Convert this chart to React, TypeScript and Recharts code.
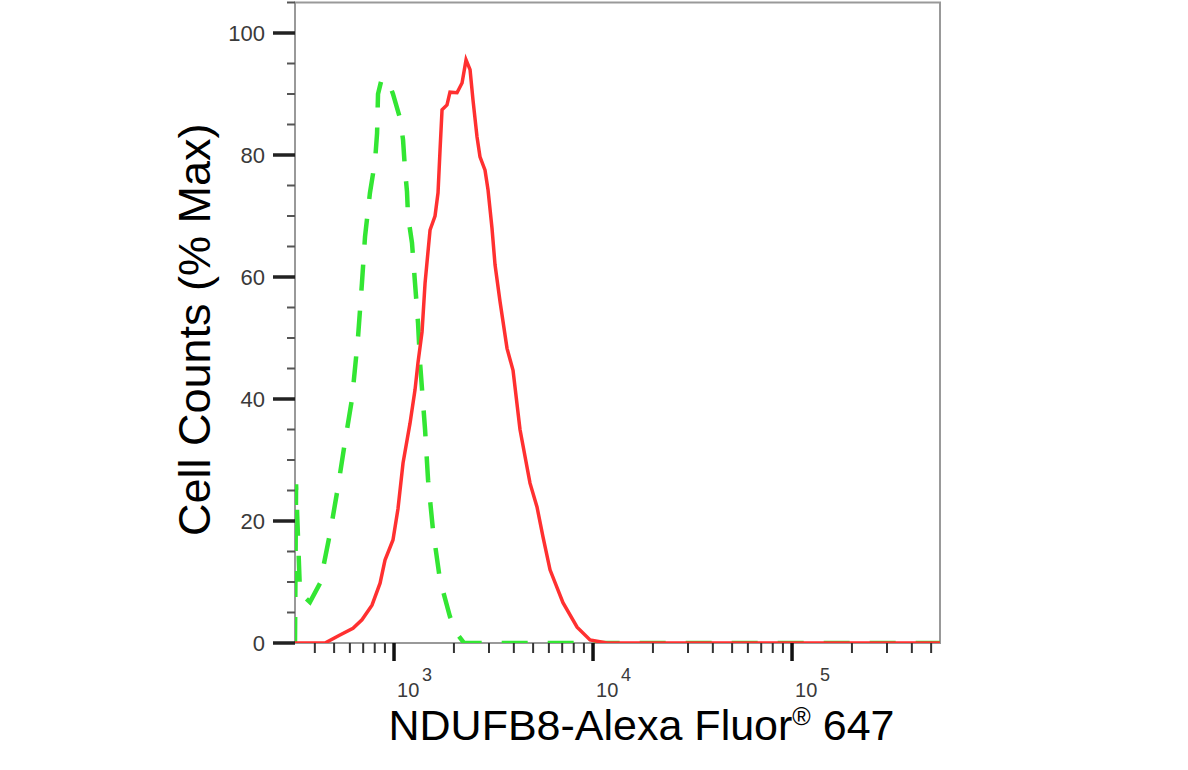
import { LineChart, Line, XAxis, YAxis, ReferenceArea } from "recharts";

// isotype control (green dashed)
const isotypeIntensity = [318, 322, 337, 378, 425, 477, 523, 567, 615, 659, 690, 715, 757, 803, 822, 831, 860, 901, 950, 988, 1072, 1110, 1136, 1162, 1176, 1231, 1275, 1320, 1351, 1432, 1483, 1570, 1703, 1911, 2097, 2250, 554000];
const isotypePct = [0, 26, 8.2, 6.7, 9.8, 18, 25.6, 33, 40, 50, 59, 66.6, 73.8, 79, 83.6, 90, 92, 92.6, 91.5, 90, 86, 82.5, 77.5, 74, 70, 65.6, 59, 52.5, 46, 35, 26.7, 18.5, 10.3, 4.3, 1.3, 0, 0];

// NDUFB8 stained (red)
const stainedIntensity = [318, 450, 535, 622, 690, 775, 851, 901, 988, 1047, 1110, 1203, 1275, 1320, 1383, 1432, 1517, 1607, 1664, 1703, 1743, 1846, 1911, 2073, 2197, 2301, 2410, 2494, 2612, 2704, 2866, 2967, 3107, 3218, 3409, 3697, 3963, 4296, 4823, 5230, 5605, 6081, 7063, 8317, 9660, 11750, 554000];
const stainedPct = [0, 0, 1.3, 2.4, 3.8, 6.2, 9.8, 13.6, 16.9, 22, 29.5, 36, 41.5, 46, 51, 59, 67.7, 70, 73.8, 80.8, 87.4, 88.2, 90.3, 90.2, 91.8, 95.6, 94, 89, 83, 79.7, 77.5, 74.3, 68, 62, 56, 48.3, 44.7, 35, 26.2, 22.3, 17.4, 12, 6.6, 2.6, 0.5, 0, 0];

const xTicks = [400, 500, 600, 700, 800, 900, 1000, 2000, 3000, 4000, 5000, 6000, 7000, 8000, 9000, 10000, 20000, 30000, 40000, 50000, 60000, 70000, 80000, 90000, 100000, 200000, 300000, 400000, 500000];
const xMajor = [1000, 10000, 100000];
const xMajorExp = ["3", "4", "5"];

const yTicks = [0, 5, 10, 15, 20, 25, 30, 35, 40, 45, 50, 55, 60, 65, 70, 75, 80, 85, 90, 95, 100, 105];
const yMajor = [0, 20, 40, 60, 80, 100];

const X_DOMAIN = [318, 554000];
const Y_DOMAIN = [0, 105];

const isotypeData = isotypeIntensity.map((x, i) => ({ x, y: isotypePct[i] }));
const stainedData = stainedIntensity.map((x, i) => ({ x, y: stainedPct[i] }));

const FONT = '"Liberation Sans", Arial, Helvetica, sans-serif';

function XTick(props: any) {
  const { x, y, payload } = props;
  const idx = xMajor.indexOf(payload.value);
  const major = idx >= 0;
  return (
    <g>
      <line x1={x} x2={x} y1={y} y2={y + (major ? 18 : 10)} stroke={major ? "#111" : "#333"} strokeWidth={major ? 3.5 : 2} />
      {major && (
        <>
          <text x={x + 3} y={y + 54} fontSize={20} fill="#3a3a3a" fontFamily={FONT}>
            10
          </text>
          <text x={x + 28} y={y + 38} fontSize={18} fill="#3a3a3a" fontFamily={FONT}>
            {xMajorExp[idx]}
          </text>
        </>
      )}
    </g>
  );
}

function YTick(props: any) {
  const { x, y, payload } = props;
  const major = yMajor.includes(payload.value);
  return (
    <g>
      <line x1={x - (major ? 22 : 8)} x2={x} y1={y} y2={y} stroke={major ? "#222" : "#555"} strokeWidth={major ? 3.5 : 2} />
      {major && (
        <text x={x - 30} y={y} dy="0.36em" textAnchor="end" fontSize={22} fill="#3a3a3a" fontFamily={FONT}>
          {payload.value}
        </text>
      )}
    </g>
  );
}

function XTitle(props: any) {
  const { viewBox } = props;
  const cx = viewBox.x + viewBox.width / 2 + 24;
  return (
    <text x={cx} y={viewBox.y + 97} textAnchor="middle" fontSize={43} fill="#000" fontFamily={FONT}>
      NDUFB8-Alexa Fluor
      <tspan dy={-15} fontSize={25}>®</tspan>
      <tspan dy={15}> 647</tspan>
    </text>
  );
}

function YTitle(props: any) {
  const { viewBox } = props;
  const cy = viewBox.y + viewBox.height / 2 + 7;
  const bx = viewBox.x + viewBox.width - 85;
  return (
    <text transform={`translate(${bx}, ${cy}) rotate(-90)`} textAnchor="middle" fontSize={45} fill="#000" fontFamily={FONT}>
      Cell Counts (% Max)
    </text>
  );
}

export default function App() {
  return (
    <div style={{ position: "absolute", left: 0, top: 0, width: 1188, height: 770, background: "#fff" }}>
      <LineChart width={1188} height={770} margin={{ top: 2.5, right: 248, bottom: 67, left: 195 }}>
        <ReferenceArea x1={X_DOMAIN[0]} x2={X_DOMAIN[1]} y1={Y_DOMAIN[0]} y2={Y_DOMAIN[1]} fill="none" stroke="#999" strokeWidth={2} />
        <XAxis
          type="number"
          dataKey="x"
          scale="log"
          domain={X_DOMAIN}
          allowDataOverflow
          ticks={xTicks}
          interval={0}
          tick={<XTick />}
          tickLine={false}
          tickSize={0}
          tickMargin={0}
          height={60}
          axisLine={false}
          label={<XTitle />}
        />
        <YAxis
          type="number"
          dataKey="y"
          domain={Y_DOMAIN}
          allowDataOverflow
          ticks={yTicks}
          interval={0}
          tick={<YTick />}
          tickLine={false}
          tickSize={0}
          tickMargin={0}
          width={100}
          axisLine={false}
          label={<YTitle />}
        />
        <Line
          data={isotypeData}
          dataKey="y"
          type="linear"
          stroke="#33e633"
          strokeWidth={4.5}
          strokeDasharray="26 20"
          dot={false}
          isAnimationActive={false}
        />
        <Line
          data={stainedData}
          dataKey="y"
          type="linear"
          stroke="#ff3030"
          strokeWidth={3.5}
          dot={false}
          isAnimationActive={false}
        />
      </LineChart>
    </div>
  );
}
